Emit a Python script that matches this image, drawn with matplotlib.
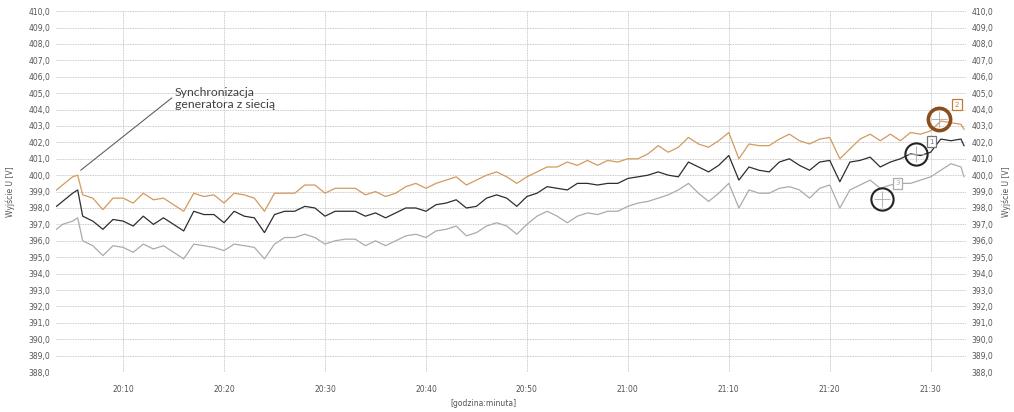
import matplotlib
matplotlib.use('Agg')
import matplotlib.pyplot as plt
from matplotlib.ticker import FuncFormatter, MultipleLocator

# czas w minutach po 20:00
minutes = [3.4, 4, 5, 5.5, 6, 7, 8, 9, 10, 11, 12, 13, 14, 15, 16, 17, 18, 19, 20,
           21, 22, 23, 24, 25, 26, 27, 28, 29, 30, 31, 32, 33, 34, 35, 36, 37, 38,
           39, 40, 41, 42, 43, 44, 45, 46, 47, 48, 49, 50, 51, 52, 53, 54, 55, 56,
           57, 58, 59, 60, 61, 62, 63, 64, 65, 66, 67, 68, 69, 70, 71, 72, 73, 74,
           75, 76, 77, 78, 79, 80, 81, 82, 83, 84, 85, 86, 87, 88, 89, 90, 91, 92,
           93, 93.3]

# napiecia wyjsciowe [V]
u_orange = [399.1, 399.4, 399.9, 400.0, 398.8, 398.6, 397.9, 398.6, 398.6, 398.3,
            398.9, 398.5, 398.6, 398.2, 397.8, 398.9, 398.7, 398.8, 398.3, 398.9,
            398.8, 398.6, 397.8, 398.9, 398.9, 398.9, 399.4, 399.4, 398.9, 399.2,
            399.2, 399.2, 398.8, 399.0, 398.7, 398.9, 399.3, 399.5, 399.2, 399.5,
            399.7, 399.9, 399.4, 399.7, 400.0, 400.2, 399.9, 399.5, 399.9, 400.2,
            400.5, 400.5, 400.8, 400.6, 400.9, 400.6, 400.9, 400.8, 401.0, 401.0,
            401.3, 401.8, 401.4, 401.7, 402.3, 401.9, 401.7, 402.1, 402.6, 401.0,
            401.9, 401.8, 401.8, 402.2, 402.5, 402.1, 401.9, 402.2, 402.3, 401.0,
            401.6, 402.2, 402.5, 402.1, 402.5, 402.1, 402.6, 402.5, 402.7, 403.3,
            403.2, 403.1, 402.8]
u_black = [398.1, 398.4, 398.9, 399.1, 397.5, 397.2, 396.7, 397.3, 397.2, 396.9,
           397.5, 397.0, 397.4, 397.0, 396.6, 397.8, 397.6, 397.6, 397.1, 397.8,
           397.5, 397.4, 396.5, 397.6, 397.8, 397.8, 398.1, 398.0, 397.5, 397.8,
           397.8, 397.8, 397.5, 397.7, 397.4, 397.7, 398.0, 398.0, 397.8, 398.2,
           398.3, 398.5, 398.0, 398.1, 398.6, 398.8, 398.6, 398.1, 398.7, 398.9,
           399.3, 399.2, 399.1, 399.5, 399.5, 399.4, 399.5, 399.5, 399.8, 399.9,
           400.0, 400.2, 400.0, 399.9, 400.8, 400.5, 400.2, 400.6, 401.2, 399.7,
           400.5, 400.3, 400.2, 400.8, 401.0, 400.6, 400.3, 400.8, 400.9, 399.6,
           400.8, 400.9, 401.1, 400.5, 400.8, 401.0, 401.3, 401.2, 401.4, 402.2,
           402.1, 402.2, 401.8]
u_gray = [396.7, 397.0, 397.2, 397.4, 396.0, 395.7, 395.1, 395.7, 395.6, 395.3,
          395.8, 395.5, 395.7, 395.3, 394.9, 395.8, 395.7, 395.6, 395.4, 395.8,
          395.7, 395.6, 394.9, 395.8, 396.2, 396.2, 396.4, 396.2, 395.8, 396.0,
          396.1, 396.1, 395.7, 396.0, 395.7, 396.0, 396.3, 396.4, 396.2, 396.6,
          396.7, 396.9, 396.3, 396.5, 396.9, 397.1, 396.9, 396.4, 397.0, 397.5,
          397.8, 397.5, 397.1, 397.5, 397.7, 397.6, 397.8, 397.8, 398.1, 398.3,
          398.4, 398.6, 398.8, 399.1, 399.5, 398.9, 398.4, 398.9, 399.5, 398.0,
          399.1, 398.9, 398.9, 399.2, 399.3, 399.1, 398.6, 399.2, 399.4, 398.0,
          399.1, 399.4, 399.7, 399.2, 399.4, 399.5, 399.5, 399.7, 399.9, 400.3,
          400.7, 400.5, 399.9]

# znaczniki kursorow
cursor_t = [88.5, 90.8, 85.2]
cursor_u = [401.3, 403.45, 398.55]
cursor_labels = ['1', '2', '3']
cursor_colors = ['#222222', '#8a4d1c', '#222222']
box_t = [90.1, 92.6, 86.7]
box_u = [402.05, 404.3, 399.5]
box_colors = ['#777777', '#c07a36', '#aaaaaa']

fig = plt.figure(figsize=(10.14, 4.12), dpi=100)
ax = fig.add_axes([0.0552, 0.097, 0.8975, 0.876])

ax.plot(minutes, u_gray, color='#ababab', lw=0.9)
ax.plot(minutes, u_black, color='#2e2e2e', lw=0.9)
ax.plot(minutes, u_orange, color='#d39a5c', lw=0.9)

ax.set_xlim(3.35, 93.5)
ax.set_ylim(388, 410)
ax.xaxis.set_major_locator(MultipleLocator(10))
ax.yaxis.set_major_locator(MultipleLocator(1))
ax.xaxis.set_major_formatter(FuncFormatter(lambda m, p: f"{20 + int(m) // 60}:{int(m) % 60:02d}"))
ax.yaxis.set_major_formatter(FuncFormatter(lambda v, p: f"{v:.1f}".replace('.', ',')))
ax.set_xticks(range(10, 91, 10))

ax.grid(True, which='major', color='#b8b8b8', lw=0.6, ls=(0, (1, 1)))
for s in ax.spines.values():
    s.set_visible(False)
ax.tick_params(axis='both', length=0, labelsize=5.5, labelcolor='#555555')
ax.tick_params(axis='y', labelright=True, pad=4)
ax.tick_params(axis='x', pad=9)

ax.set_xlabel('[godzina:minuta]', fontsize=5.5, color='#555555', labelpad=5)
ax.xaxis.set_label_coords(0.47, -0.075)
ax.set_ylabel('Wyjście U [V]', fontsize=5.5, color='#555555', labelpad=10)
fig.text(0.992, 0.535, 'Wyjście U [V]', rotation=90, fontsize=5.5, color='#555555',
         ha='center', va='center')

# adnotacja synchronizacji
ax.annotate('Synchronizacja\ngeneratora z siecią',
            xy=(5.8, 400.3), xytext=(15.1, 405.4),
            fontsize=8.8, family='Lato', color='#404040', va='top', ha='left',
            arrowprops=dict(arrowstyle='-', color='#606060', lw=0.8,
                            shrinkA=0, shrinkB=0, relpos=(-0.02, 0.55)))

for t, u, c, lab, bt, bu, bc in zip(cursor_t, cursor_u, cursor_colors, cursor_labels,
                                    box_t, box_u, box_colors):
    lw = 2.6 if lab == '2' else 1.5
    ax.plot(t, u, 'o', ms=16, mfc='none', mec=c, mew=lw)
    ax.plot(t, u, '+', ms=11, mec='#aaaaaa', mew=0.6)
    ax.text(bt, bu, lab, fontsize=5, color=bc, ha='center', va='center',
            bbox=dict(boxstyle='square,pad=0.35', fc='white', ec=bc, lw=0.9))

plt.savefig('out.png', dpi=100)
